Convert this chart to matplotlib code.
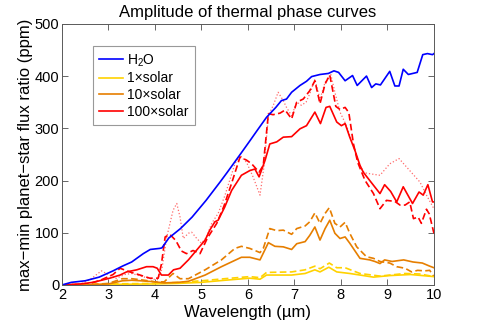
import numpy as np
import matplotlib
matplotlib.use('Agg')
from matplotlib import pyplot as plt

plt.rcParams['font.family'] = ['Liberation Sans', 'DejaVu Sans']
plt.rcParams['mathtext.default'] = 'regular'

# H2O only
wl_h2o = [2.0, 2.2, 2.5, 2.8, 3.1, 3.3, 3.5, 3.75, 3.9, 4.1, 4.15, 4.3, 4.55, 4.8, 5.1,
          5.4, 5.55, 5.85, 6.05, 6.2, 6.4, 6.6, 6.72, 6.83, 6.94, 7.12, 7.26, 7.37, 7.55,
          7.73, 7.85, 7.95, 8.09, 8.25, 8.35, 8.55, 8.66, 8.75, 8.85, 9.05, 9.16, 9.25,
          9.34, 9.45, 9.64, 9.76, 9.86, 9.97, 10.0]
h2o = [0, 5, 8, 15, 27, 36, 44, 60, 68, 70, 71, 90, 108, 130, 162,
       197, 215, 252, 277, 296, 321, 340, 353, 356, 369, 382, 390, 399, 403,
       405, 410, 407, 391, 401, 382, 400, 378, 385, 383, 409, 381, 381,
       413, 403, 407, 441, 443, 441, 443]

# 100x solar, three cases (solid, dashed, dotted)
wl_100a = [2.0, 2.4, 2.67, 3.03, 3.25, 3.39, 3.61, 3.82, 3.96, 4.05, 4.14, 4.29, 4.4, 4.54,
           4.72, 4.9, 5.08, 5.18, 5.29, 5.36, 5.5, 5.65, 5.86, 6.04, 6.15, 6.24, 6.37, 6.47,
           6.62, 6.76, 6.94, 7.12, 7.26, 7.44, 7.56, 7.68, 7.76, 7.91, 8.01, 8.09, 8.19,
           8.3, 8.41, 8.48, 8.62, 8.84, 8.94, 9.07, 9.2, 9.34, 9.54, 9.68, 9.77, 9.87, 9.97, 10.0]
sol100a = [0, 2, 5, 13, 19, 25, 29, 35, 35, 32, 19, 19, 29, 32,
           48, 67, 86, 105, 121, 124, 149, 181, 210, 219, 222, 207, 239, 270,
           274, 283, 284, 299, 305, 331, 309, 340, 342, 312, 305, 309, 283,
           258, 229, 216, 200, 175, 192, 179, 159, 188, 156, 178, 172, 192, 159, 159]

wl_100b = [2.0, 2.5, 2.8, 3.1, 3.25, 3.46, 3.68, 3.89, 4.07, 4.14, 4.22, 4.32, 4.45, 4.57,
           4.68, 4.82, 4.97, 5.13, 5.33, 5.48, 5.65, 5.83, 5.97, 6.08, 6.24, 6.33, 6.44, 6.54,
           6.69, 6.8, 6.94, 7.05, 7.19, 7.33, 7.44, 7.55, 7.66, 7.76, 7.89, 7.98, 8.09, 8.17,
           8.27, 8.36, 8.45, 8.52, 8.7, 8.84, 8.98, 9.16, 9.27, 9.38, 9.48, 9.56, 9.66, 9.73,
           9.84, 9.9, 10.0]
sol100b = [0, 1, 8, 20, 32, 25, 19, 13, 13, 40, 92, 97, 85, 65,
           60, 66, 60, 90, 118, 150, 195, 245, 239, 232, 216, 229, 328, 326,
           329, 335, 318, 350, 356, 372, 391, 347, 385, 402, 342, 336, 340, 330,
           270, 235, 215, 200, 175, 146, 162, 160, 153, 153, 159, 127, 130, 118,
           145, 136, 99]

wl_100c = [2.0, 2.4, 2.6, 2.85, 3.0, 3.15, 3.35, 3.5, 3.7, 3.9, 4.05, 4.15, 4.25, 4.39,
           4.47, 4.54, 4.61, 4.72, 4.79, 4.9, 5.0, 5.1, 5.22, 5.36, 5.5, 5.72, 5.83, 5.97,
           6.11, 6.26, 6.35, 6.44, 6.55, 6.65, 6.76, 6.83, 6.94, 7.05, 7.15, 7.25, 7.33,
           7.44, 7.55, 7.66, 7.78, 7.87, 7.98, 8.12, 8.25, 8.4, 8.5, 8.62, 8.84, 9.05,
           9.25, 9.48, 9.7, 9.84, 10.0]
sol100c = [0, 2, 10, 27, 20, 12, 20, 22, 17, 12, 10, 30, 90, 143,
           156, 130, 89, 99, 101, 89, 80, 90, 118, 137, 170, 232, 248, 235,
           207, 172, 230, 324, 345, 369, 353, 340, 324, 350, 344, 350, 366,
           394, 356, 388, 404, 369, 331, 305, 270, 230, 215, 213, 210, 232,
           242, 219, 197, 172, 146]

# 10x solar
wl_10a = [2.0, 2.5, 3.0, 3.3, 3.5, 3.7, 4.0, 4.2, 4.5, 4.72, 5.08, 5.43, 5.86, 6.04, 6.26,
          6.44, 6.58, 6.76, 6.94, 7.05, 7.23, 7.33, 7.44, 7.55, 7.66, 7.76, 7.87, 7.98,
          8.09, 8.19, 8.41, 8.62, 8.73, 8.84, 8.94, 9.1, 9.35, 9.55, 9.75, 9.91, 10.0]
sol10a = [0, 0, 2, 8, 9, 8, 6, 4, 5, 7, 19, 35, 53, 53, 48,
          81, 74, 73, 68, 79, 83, 95, 111, 86, 108, 124, 99, 89,
          92, 80, 51, 48, 45, 41, 48, 45, 48, 44, 42, 36, 33]

wl_10b = [2.0, 2.5, 3.0, 3.3, 3.5, 3.7, 4.0, 4.2, 4.39, 4.54, 4.72, 5.08, 5.43, 5.72, 5.86,
          6.04, 6.26, 6.33, 6.47, 6.62, 6.76, 6.94, 7.05, 7.23, 7.33, 7.44, 7.55, 7.66,
          7.75, 7.87, 7.98, 8.09, 8.19, 8.34, 8.55, 8.7, 8.84, 9.05, 9.2, 9.38, 9.52, 9.65,
          9.8, 9.91, 10.0]
sol10b = [0, 0, 3, 12, 12, 10, 6, 6, 22, 12, 12, 29, 48, 70, 74,
          70, 62, 70, 108, 104, 105, 97, 108, 113, 121, 138, 118, 137,
          148, 118, 111, 120, 99, 73, 54, 51, 45, 42, 35, 32, 25, 28,
          27, 28, 16]

# 1x solar
wl_1a = [2.0, 3.0, 4.0, 4.5, 5.0, 5.5, 6.04, 6.26, 6.4, 6.94, 7.23, 7.44, 7.55, 7.74,
         7.91, 8.19, 8.41, 8.7, 9.05, 9.5, 10.0]
sol1a = [0, 1, 2, 3, 5, 9, 13, 11, 19, 19, 22, 29, 25, 34,
         25, 22, 19, 15, 18, 20, 16]

wl_1b = [2.0, 3.0, 4.0, 4.5, 5.0, 5.5, 6.04, 6.26, 6.4, 6.94, 7.23, 7.44, 7.55, 7.75,
         7.91, 8.09, 8.41, 8.84, 9.38, 9.7, 10.0]
sol1b = [0, 2, 3, 5, 8, 12, 16, 14, 24, 25, 29, 36, 31, 42,
         33, 33, 22, 17, 22, 21, 16]

legend_labels = ['H$_2$O', '1\u00d7solar', '10\u00d7solar', '100\u00d7solar']

c_h2o = '#0000ff'
c_1 = '#ffd200'
c_10 = '#e67e00'
c_100 = '#ff0000'
dash = (0, (4, 2))

fig = plt.figure(figsize=(4.8, 3.22), dpi=100)
ax = fig.add_axes([0.129, 0.115, 0.775, 0.811])

ax.plot(wl_1b, sol1b, color=c_1, lw=1.2, ls=dash)
ax.plot(wl_10b, sol10b, color=c_10, lw=1.2, ls=dash)
ax.plot(wl_100c, sol100c, color='#ff6a6a', lw=0.9, ls=':')
ax.plot(wl_100b, sol100b, color=c_100, lw=1.2, ls=dash)
l1, = ax.plot(wl_1a, sol1a, color=c_1, lw=1.2)
l10, = ax.plot(wl_10a, sol10a, color=c_10, lw=1.2)
l100, = ax.plot(wl_100a, sol100a, color=c_100, lw=1.2)
lh, = ax.plot(wl_h2o, h2o, color=c_h2o, lw=1.2)

ax.set_xlim(2, 10)
ax.set_ylim(0, 500)
ax.set_xticks(range(2, 11))
ax.set_yticks(range(0, 501, 100))
ax.tick_params(direction='in', length=4, width=0.6, top=True, right=True,
               labelsize=10.5, color='0.3')
ax.tick_params(axis='y', pad=2)
ax.tick_params(axis='x', pad=2.5)
for s in ax.spines.values():
    s.set_linewidth(0.7)
    s.set_color('0.35')

ax.set_title('Amplitude of thermal phase curves', fontsize=12, pad=5)
ax.set_xlabel('Wavelength (\u00b5m)', fontsize=12, labelpad=2)
ax.set_ylabel('max\u2212min planet\u2212star flux ratio (ppm)', fontsize=12, labelpad=1)

leg = ax.legend([lh, l1, l10, l100], legend_labels,
                loc='upper left', bbox_to_anchor=(0.083, 0.915), borderaxespad=0,
                fontsize=10, handlelength=1.75, handletextpad=0.25, labelspacing=0.2,
                borderpad=0.45, fancybox=False, framealpha=1, edgecolor='0.6')
leg.get_frame().set_linewidth(0.8)

fig.savefig('out.png', dpi=100)
